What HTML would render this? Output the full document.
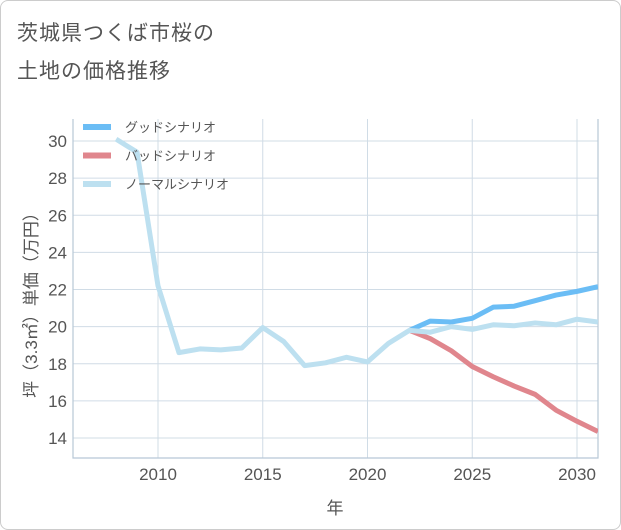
<!DOCTYPE html>
<html><head><meta charset="utf-8"><style>
body{margin:0;background:#fff;font-family:"Liberation Sans","Noto Sans CJK JP",sans-serif}
#wrap{position:relative;width:619px;height:528px;border:1px solid #ccc;border-radius:8px;overflow:hidden}
.t{position:absolute;left:16px;font-size:21px;color:#555;letter-spacing:1px}
</style></head><body>
<div id="wrap">
<div class="t" style="top:16px">茨城県つくば市桜の</div>
<div class="t" style="top:54px">土地の価格推移</div>
<svg id="c" width="621" height="530" style="position:absolute;left:0;top:0"></svg>
</div>
<script>
const years=[2008,2009,2010,2011,2012,2013,2014,2015,2016,2017,2018,2019,2020,2021,2022,2023,2024,2025,2026,2027,2028,2029,2030,2031];
const normal=[30.1,29.4,22.2,18.6,18.8,18.75,18.85,19.95,19.2,17.9,18.05,18.35,18.1,19.1,19.8,19.7,20.0,19.85,20.1,20.05,20.2,20.1,20.4,20.25];
const fyears=[2022,2023,2024,2025,2026,2027,2028,2029,2030,2031];
const good=[19.8,20.3,20.25,20.45,21.05,21.1,21.4,21.7,21.9,22.15];
const bad=[19.8,19.35,18.7,17.85,17.3,16.8,16.35,15.5,14.9,14.35];
const xticks=[2010,2015,2020,2025,2030];
const yticks=[14,16,18,20,22,24,26,28,30];
const NS="http://www.w3.org/2000/svg",svg=document.getElementById('c');
const L=72,R=597,T=118,B=457;
const x=v=>157+(v-2010)*20.95;
const y=v=>437-(v-14)*18.56;
function el(t,a,p){const e=document.createElementNS(NS,t);for(const k in a)e.setAttribute(k,a[k]);(p||svg).appendChild(e);return e;}
for(const v of yticks){
 const g=el('line',{x1:L,x2:R,y1:y(v),y2:y(v),stroke:'#d0dce6','stroke-width':1});
 
 
 const t=el('text',{x:66,y:y(v)+6,'text-anchor':'end','font-size':17,fill:'#555'});t.textContent=v;
 
 
}
for(const v of xticks){
 const g=el('line',{x1:x(v),x2:x(v),y1:T,y2:B,stroke:'#d0dce6','stroke-width':1});
 
 
 const t=el('text',{x:x(v),y:479,'text-anchor':'middle','font-size':17,fill:'#555'});t.textContent=v;
 
 
}
const ax=el('path',{d:`M${L},${T}V${B}H${R}V${T}`,fill:'none',stroke:'#b8c8d6','stroke-width':1.2});


function line(xs,ys,col,name){
 const p=el('polyline',{points:xs.map((v,i)=>x(v)+','+y(ys[i])).join(' '),fill:'none',stroke:col,'stroke-width':5,'stroke-linejoin':'round'});
 
 
}
const cp=el('clipPath',{id:'cl'});el('rect',{x:L,y:T,width:R-L,height:B-T},cp);
line(fyears,bad,'#e0868d','bad-scenario-line');
line(fyears,good,'#6bbdf5','good-scenario-line');
line(years,normal,'#bde0f0','normal-scenario-line');
svg.querySelectorAll('polyline').forEach(p=>p.setAttribute('clip-path','url(#cl)'));
const leg=[['グッドシナリオ','#6bbdf5'],['バッドシナリオ','#e0868d'],['ノーマルシナリオ','#bde0f0']];
leg.forEach((d,i)=>{
 const yy=126+i*28.5;
 const s=el('line',{x1:82,x2:110,y1:yy,y2:yy,stroke:d[1],'stroke-width':6});
 
 
 const t=el('text',{x:124,y:yy+5,'font-size':13,fill:'#555'});t.textContent=d[0];
 
 
});
const xt=el('text',{x:334,y:513,'text-anchor':'middle','font-size':17,fill:'#555'});xt.textContent='年';


const yt=el('text',{x:0,y:0,'text-anchor':'middle','font-size':17,fill:'#555',transform:'translate(36,300) rotate(-90)'});yt.textContent='坪（3.3㎡）単価（万円）';


</script>
</body></html>
